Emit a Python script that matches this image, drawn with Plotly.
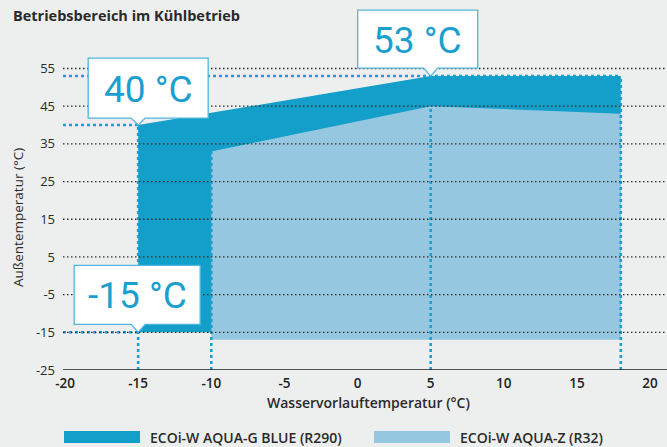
import plotly.graph_objects as go

# ---- data ----
r290_x = [-15, -15, 5, 18, 18]
r290_y = [-15, 40, 53, 53, -15]
r32_x = [-10, -10, 5, 18, 18]
r32_y = [-17, 33, 45, 43, -17]

series_names = ["ECOi-W AQUA-G BLUE (R290)", "ECOi-W AQUA-Z (R32)"]
y_ticks = [55, 45, 35, 25, 15, 5, -5, -15, -25]
x_ticks = [-20, -15, -10, -5, 0, 5, 10, 15, 20]

# marker lines (vertical: x, top value) and (horizontal: y, end x)
vlines = [(-15, 40), (-10, 33), (5, 45), (18, 53)]
hlines = [(53, 18), (40, -15), (-15, -15)]

callout_text = ["40 °C", "53 °C", "-15 °C"]
callout_pts = [(-15, 40), (5, 53), (-15, -15)]

# ---- style ----
DARK = "#139fc9"
LIGHT = "#95c8e0"
DOT = "#1a9fd0"
BG = "#edefee"
FONT = "Open Sans, sans-serif"

W, H = 667, 447
ML, MR, MT, MB = 63, 0, 64, 77
XR = [-20.14, 21.16]
YR = [-25, 56.2]
pw, ph = W - ML - MR, H - MT - MB

def px(xp):
    return (xp - ML) / pw

def py(yp):
    return (H - MB - yp) / ph

def dx(v):
    return (v - XR[0]) / (XR[1] - XR[0])

def dy(v):
    return (v - YR[0]) / (YR[1] - YR[0])

fig = go.Figure()

fig.add_trace(go.Scatter(x=r290_x, y=r290_y, fill="toself", mode="lines",
                         line=dict(width=0, color=DARK), fillcolor=DARK,
                         name=series_names[0], hoverinfo="skip"))
fig.add_trace(go.Scatter(x=r32_x, y=r32_y, fill="toself", mode="lines",
                         line=dict(width=0, color=LIGHT), fillcolor=LIGHT,
                         name=series_names[1], hoverinfo="skip"))

shapes = []
# dotted black gridlines above the fills
for t in y_ticks[:-1]:
    shapes.append(dict(type="line", xref="paper", yref="y", x0=0, x1=1, y0=t, y1=t,
                       line=dict(color="#2a2a2a", width=1.3, dash="1.5px,2.5px"), layer="above"))
# x axis line
shapes.append(dict(type="line", xref="paper", yref="y", x0=0, x1=1, y0=YR[0], y1=YR[0],
                   line=dict(color="#1e1e1e", width=1.6), layer="above"))

# blue dotted reference lines
for xv, top in vlines:
    fig.add_trace(go.Scatter(x=[xv, xv], y=[YR[0], top], mode="lines",
                             line=dict(color=DOT, width=2.6, dash="dot"),
                             showlegend=False, hoverinfo="skip"))
for yv, xend in hlines:
    fig.add_trace(go.Scatter(x=[XR[0], xend], y=[yv, yv], mode="lines",
                             line=dict(color=DOT, width=2.6, dash="dot"),
                             showlegend=False, hoverinfo="skip"))

# callouts: box + pointer (pixel offsets from tip)
boxes = [(-50, 70, 7, 67), (-73, 47, 8, 66), (-64, 62, 8, 67)]
annotations = []
for (xv, yv), txt, (l, r, b, t) in zip(callout_pts, callout_text, boxes):
    path = f"M {l},{b} L -7,{b} L 0,0 L 7,{b} L {r},{b} L {r},{t} L {l},{t} Z"
    shapes.append(dict(type="path", xref="paper", yref="paper", xsizemode="pixel", ysizemode="pixel",
                       xanchor=dx(xv), yanchor=dy(yv), path=path, fillcolor="white",
                       line=dict(color="#52b5dc", width=1.3), layer="above"))
    annotations.append(dict(x=xv, y=yv, xref="x", yref="y", text=txt, showarrow=False,
                            xshift=(l + r) / 2, yshift=(b + t) / 2 - 1,
                            font=dict(family="Roboto, sans-serif", size=37, color="#1c9fce")))

# legend (manual)
leg_items = [(64, 140, 148, DARK, series_names[0]), (374, 450, 458, LIGHT, series_names[1])]
for x0, x1, xt, col, name in leg_items:
    shapes.append(dict(type="rect", xref="paper", yref="paper", x0=px(x0), x1=px(x1),
                       y0=py(443), y1=py(431), fillcolor=col, line=dict(width=0)))
    annotations.append(dict(x=px(xt), y=py(437), xref="paper", yref="paper", text=name,
                            showarrow=False, xanchor="left", yanchor="middle",
                            font=dict(family=FONT, size=14, color="#2a2a2a", weight=600)))

# titles
annotations.append(dict(x=px(11), y=py(16), xref="paper", yref="paper",
                        text="<b>Betriebsbereich im Kühlbetrieb</b>", showarrow=False,
                        xanchor="left", yanchor="middle",
                        font=dict(family=FONT, size=14.5, color="#2a2a2a")))
annotations.append(dict(x=px(368), y=py(402), xref="paper", yref="paper",
                        text="Wasservorlauftemperatur (°C)", showarrow=False,
                        xanchor="center", yanchor="middle",
                        font=dict(family=FONT, size=14, color="#2a2a2a", weight=600)))
annotations.append(dict(x=px(18), y=py(218), xref="paper", yref="paper",
                        text="Außentemperatur (°C)", showarrow=False, textangle=-90,
                        xanchor="center", yanchor="middle",
                        font=dict(family=FONT, size=13.5, color="#2a2a2a")))

fig.update_layout(
    width=W, height=H,
    margin=dict(l=ML, r=MR, t=MT, b=MB, pad=0),
    paper_bgcolor=BG, plot_bgcolor=BG,
    showlegend=False,
    shapes=shapes, annotations=annotations,
    xaxis=dict(range=XR, tickvals=x_ticks, ticktext=[str(v) for v in x_ticks],
               showgrid=False, zeroline=False, showline=False, ticks="",
               ticklabelstandoff=3,
               tickfont=dict(family=FONT, size=13.5, color="#222", weight=600)),
    yaxis=dict(range=YR, tickvals=y_ticks, ticktext=[str(v) for v in y_ticks],
               showgrid=False, zeroline=False, showline=False, ticks="",
               ticklabelstandoff=7,
               tickfont=dict(family=FONT, size=13, color="#2a2a2a")),
)

fig.write_html("out.html", config={"displayModeBar": False},
               post_script="document.body.style.margin='0';document.body.style.padding='0';"
                           "document.body.style.background='%s';" % BG)
